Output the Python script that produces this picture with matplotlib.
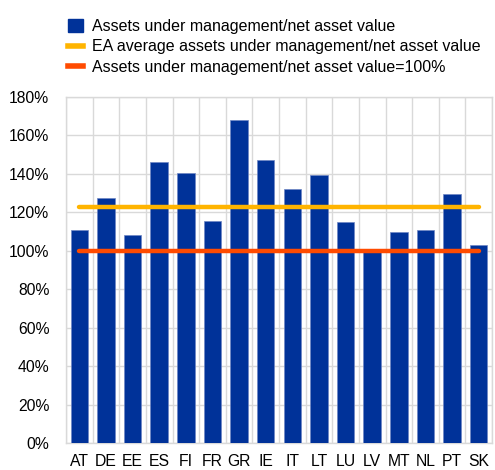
import matplotlib
matplotlib.use("Agg")
import matplotlib.pyplot as plt
from matplotlib.patches import Patch
from matplotlib.lines import Line2D
from matplotlib.ticker import FuncFormatter, MultipleLocator, FixedLocator

countries = ["AT", "DE", "EE", "ES", "FI", "FR", "GR", "IE", "IT", "LT",
             "LU", "LV", "MT", "NL", "PT", "SK"]
aum_nav = [110.8, 127.5, 108.0, 146.0, 140.5, 115.5, 168.0, 147.0, 132.0,
           139.5, 115.0, 99.5, 110.0, 110.8, 129.5, 103.0]
ea_average = 122.8
reference_level = 100.0

labels = ["Assets under management/net asset value",
          "EA average assets under management/net asset value",
          "Assets under management/net asset value=100%"]

blue = "#003299"
yellow = "#FFB400"
red = "#FF4B00"

plt.rcParams["font.family"] = ["Liberation Sans", "DejaVu Sans"]

fig = plt.figure(figsize=(4.95, 4.7), dpi=100)
ax = fig.add_axes([66 / 495, 1 - 443 / 470, 426 / 495, 346 / 470])

x = list(range(len(countries)))
ax.bar(x, aum_nav, width=0.66, color=blue, edgecolor="#6f86c4", linewidth=0.5, zorder=3)
ax.plot(x, [ea_average] * len(x), color=yellow, linewidth=3.2, solid_capstyle="round", zorder=4)
ax.plot(x, [reference_level] * len(x), color=red, linewidth=3.2, solid_capstyle="round", zorder=4)

ax.set_xlim(-0.5, len(countries) - 0.5)
ax.set_ylim(0, 180)
ax.yaxis.set_major_locator(MultipleLocator(20))
ax.yaxis.set_major_formatter(FuncFormatter(lambda v, p: f"{int(v)}%"))
ax.set_xticks(x)
ax.set_xticklabels(countries)
ax.xaxis.set_minor_locator(FixedLocator([i + 0.5 for i in range(-1, len(countries))]))
ax.grid(True, axis="y", which="major", color="#d9d9d9", linewidth=1.0, zorder=0)
ax.grid(True, axis="x", which="minor", color="#d9d9d9", linewidth=1.0, zorder=0)
ax.tick_params(axis="both", which="both", length=0, labelsize=11.3, colors="#000000")
ax.tick_params(axis="x", pad=8)
ax.tick_params(axis="y", pad=12)
for s in ax.spines.values():
    s.set_color("#d9d9d9")
    s.set_linewidth(1.0)

handles = [Patch(facecolor=blue, edgecolor=blue),
           Line2D([0], [0], color=yellow, linewidth=4),
           Line2D([0], [0], color=red, linewidth=4)]
fig.legend(handles, labels, loc="upper left", bbox_to_anchor=(62 / 495, 1 - 13 / 470),
           frameon=False, fontsize=11.5, handlelength=0.9, handleheight=0.85,
           handletextpad=0.6, labelspacing=0.32, borderaxespad=0)

fig.savefig("out.png", dpi=100)
